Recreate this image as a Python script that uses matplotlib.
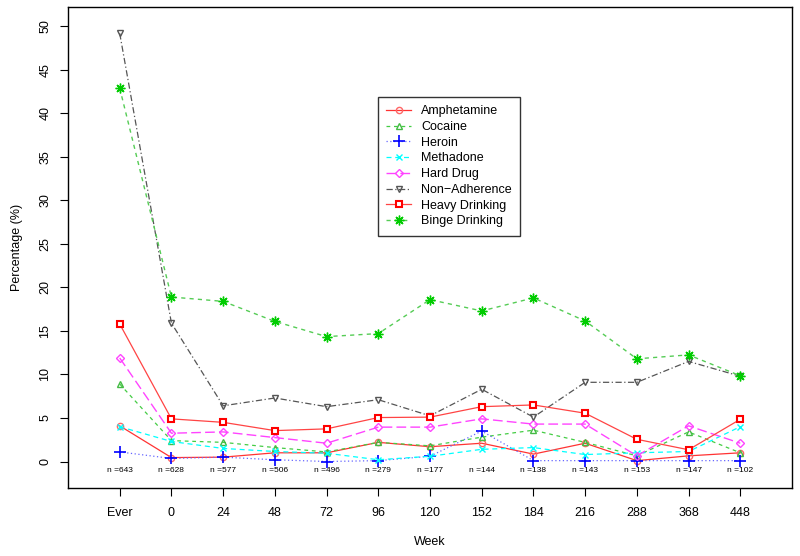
import matplotlib
matplotlib.use('Agg')
import matplotlib.pyplot as plt
from matplotlib import font_manager
import numpy as np

# keep the regular (not narrow) Liberation Sans
font_manager.fontManager.ttflist = [f for f in font_manager.fontManager.ttflist
                                    if 'Narrow' not in f.fname]
plt.rcParams['font.family'] = ['Liberation Sans', 'DejaVu Sans']

weeks = ['Ever', '0', '24', '48', '72', '96', '120', '152', '184', '216', '288', '368', '448']
n_labels = ['n =643', 'n =628', 'n =577', 'n =506', 'n =496', 'n =279', 'n =177',
            'n =144', 'n =138', 'n =143', 'n =153', 'n =147', 'n =102']

amphetamine = [4.1, 0.45, 0.5, 1.0, 1.0, 2.2, 1.7, 2.1, 0.85, 2.1, 0.1, 0.65, 1.0]
cocaine = [8.9, 2.4, 2.2, 1.6, 1.1, 2.2, 1.8, 2.8, 3.6, 2.2, 0.65, 3.4, 1.0]
heroin = [1.1, 0.35, 0.5, 0.2, 0.0, 0.1, 0.6, 3.5, 0.1, 0.1, 0.1, 0.1, 0.1]
methadone = [4.0, 2.3, 1.5, 1.15, 0.95, 0.2, 0.6, 1.4, 1.6, 0.8, 1.0, 1.15, 4.0]
hard_drug = [11.9, 3.25, 3.4, 2.75, 2.1, 3.95, 3.95, 4.9, 4.3, 4.3, 0.65, 4.1, 2.1]
non_adherence = [49.2, 15.9, 6.4, 7.3, 6.3, 7.1, 5.25, 8.3, 5.1, 9.1, 9.1, 11.5, 9.8]
heavy_drinking = [15.8, 4.9, 4.5, 3.55, 3.75, 5.05, 5.1, 6.3, 6.5, 5.55, 2.55, 1.35, 4.85]
binge_drinking = [42.9, 18.9, 18.4, 16.1, 14.35, 14.7, 18.6, 17.3, 18.8, 16.15, 11.8, 12.25, 9.85]

x = np.arange(len(weeks))

fig = plt.figure(figsize=(8, 5.56), dpi=100)
ax = fig.add_axes([0.085, 0.123, 0.905, 0.864])

ax.plot(x, amphetamine, color='#ff3333', ls='-', lw=0.9, marker='o', ms=4.5,
        mfc='none', mec='#ff6666', label='Amphetamine')
ax.plot(x, cocaine, color='#44cc44', ls=(0, (3, 3)), lw=0.9, marker='^', ms=5,
        mfc='none', mec='#44bb44', label='Cocaine')
ax.plot(x, heroin, color='#6666ff', ls=(0, (1, 2)), lw=0.9, marker='+', ms=8,
        mec='blue', mew=1.2, label='Heroin')
ax.plot(x, methadone, color='cyan', ls=(0, (4, 3)), lw=0.9, marker='x', ms=4.5,
        mec='cyan', label='Methadone')
ax.plot(x, hard_drug, color='#ff44ff', ls=(0, (7, 3)), lw=1.0, marker='D', ms=4.5,
        mfc='none', mec='#ff44ff', label='Hard Drug')
ax.plot(x, non_adherence, color='#555555', ls=(0, (5, 2, 1, 2)), lw=0.9, marker='v', ms=5,
        mfc='none', mec='#555555', label='Non\u2212Adherence')
ax.plot(x, heavy_drinking, color='#ff4444', ls='-', lw=0.9, marker='s', ms=4.5,
        mfc='white', mec='red', mew=1.5, label='Heavy Drinking')
ax.plot(x, binge_drinking, color='#55cc55', ls=(0, (3, 3)), lw=1.0, marker=(8, 2, 0), ms=7,
        mec='#00cc00', mew=1.0, label='Binge Drinking')

for xi, lab in zip(x, n_labels):
    ax.text(xi, -1.0, lab, ha='center', va='center', fontsize=6)

ax.set_xlim(-1, 13)
ax.set_ylim(-3, 52.2)
ax.set_xticks(x)
ax.set_xticklabels(weeks, fontsize=9)
ax.set_yticks(np.arange(0, 51, 5))
ax.set_yticklabels([str(v) for v in range(0, 51, 5)], fontsize=9, rotation=90, va='center')
ax.tick_params(axis='x', direction='out', length=6, width=0.8, pad=8)
ax.tick_params(axis='y', direction='out', length=6, width=0.8, pad=6)
for s in ax.spines.values():
    s.set_linewidth(1.0)

ax.set_xlabel('Week', fontsize=9, labelpad=12)
ax.set_ylabel('Percentage (%)', fontsize=9, labelpad=12)

leg = ax.legend(loc='upper left', bbox_to_anchor=(378 / 800, 1 - 97 / 556),
                bbox_transform=fig.transFigure, fontsize=9, frameon=True,
                fancybox=False, edgecolor='black', handlelength=2.0,
                handletextpad=0.8, labelspacing=0.3, borderpad=0.65,
                borderaxespad=0)
leg.get_frame().set_linewidth(1.0)

plt.savefig('out.png', dpi=100)
plt.close()
